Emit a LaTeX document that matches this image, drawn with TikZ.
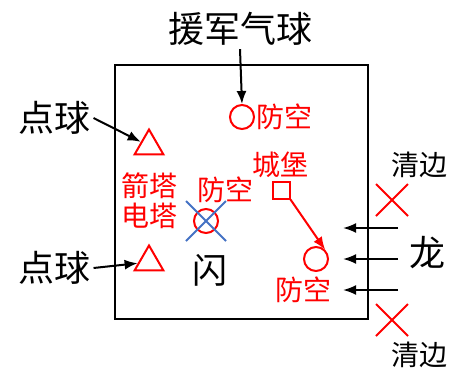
\documentclass[tikz,border=0pt]{standalone}
\usepackage{fontspec}
\setmainfont{Noto Sans CJK SC}
\usetikzlibrary{arrows.meta,shapes.geometric,shapes.misc}
\definecolor{xblue}{RGB}{68,114,196}
\tikzset{
    big/.style={font=\fontsize{36}{36}\selectfont},
    small/.style={font=\fontsize{28}{30}\selectfont, text=red},
    aa/.style={circle, draw=red, line width=2pt, minimum size=24pt, inner sep=0pt},
    tower/.style={regular polygon, regular polygon sides=3, draw=red, line width=2pt, minimum size=33pt, inner sep=0pt},
    crossmark/.style={cross out, line width=2pt, minimum size=30pt, inner sep=0pt},
    arr/.style={-{Latex[length=13pt,width=10pt]}, line width=2pt}
}
\begin{document}
\begin{tikzpicture}[x=1pt,y=-1pt]
            \useasboundingbox (0,0) rectangle (460,368);
            \coordinate (a) at (115,65);
            \coordinate (b) at (368,319);
            \draw[line width=2pt] (a) rectangle (b);
            % reinforcements at the top
            \node[big] (help) at (240,29) {援军气球};
            \node[aa] (aa1) at (242,117) {};
            \node[small, anchor=west] (aa1t) at (253,117) {防空};
            \draw[arr] (help.south) -- (aa1.north);
            % towers on the left
            \node[tower] (tri1) at (149,146) {};
            \node[tower] (tri2) at (149,262) {};
            \node[big] (pt1) at (54,118) {点球};
            \node[big] (pt2) at (54,268) {点球};
            \draw[arr] (pt1.east) -- (tri1);
            \draw[arr] (pt2.east) -- (tri2);
            \node[small, align=center] (tw) at (149,201) {箭塔\\电塔};
            % middle
            \node[small] (aa2t) at (225,190) {防空};
            \node[aa] (aa2) at (206,221) {};
            \node[crossmark, draw=xblue, minimum size=38pt] (x0) at (206,221) {};
            \node[big, font=\fontsize{35}{35}\selectfont] (flash) at (210,270) {闪};
            % castle
            \node[small] (castlet) at (280,165) {城堡};
            \node[draw=red, line width=2pt, minimum size=17pt, inner sep=0pt] (castle) at (281,190) {};
            \node[aa] (aa3) at (316,259) {};
            \node[small] (aa3t) at (303,290) {防空};
            \draw[arr, red] (castle.south east) -- (aa3.north east);
            % dragon on the right
            \node[big] (dragon) at (427,253) {龙};
            \node[crossmark, draw=red] (x1) at (392,200) {};
            \node[crossmark, draw=red] (x2) at (392,320) {};
            \node[small, text=black] (c1) at (419,165) {清边};
            \node[small, text=black] (c2) at (419,355) {清边};
            \foreach \y [count=\i] in {228,259,290} {
                \coordinate (s\i) at (398,\y);
                \coordinate (e\i) at (343,\y);
                \draw[arr] (s\i) -- (e\i);
            }
        \end{tikzpicture}
\end{document}
